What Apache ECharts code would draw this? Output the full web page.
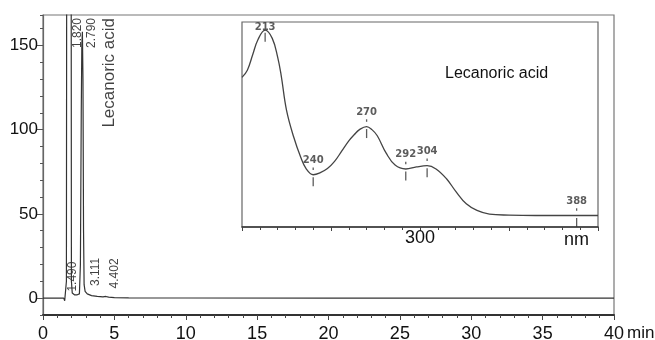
<!DOCTYPE html>
<html>
<head>
<meta charset="utf-8">
<script src="https://cdn.jsdelivr.net/npm/echarts@6/dist/echarts.min.js"></script>
<style>
  html, body { margin: 0; padding: 0; background: #fff; }
  #main { width: 655px; height: 340px; }
</style>
</head>
<body>
<div id="main"></div>
<script>
// Chromatogram: retention time (min) and signal (mAU)
const chromTime = [0, 1.0, 1.45, 1.52, 1.6, 1.64, 1.70, 1.82, 1.94, 1.99, 2.05, 2.2, 2.4, 2.55,
  2.62, 2.68, 2.72, 2.76, 2.80, 2.84, 2.88, 2.95, 3.1, 3.4, 3.8, 4.2, 4.4, 4.6, 5.0, 6.0, 10, 20, 30, 40];
const chromValue = [0, 0, 0, -1.5, -1.2, 10, 600, 1200, 600, 10, 3, 2, 2, 2.5,
  20, 110, 150, 158, 130, 40, 8, 4, 2.5, 1.5, 1, 0.8, 1.0, 0.6, 0.3, 0.2, 0.1, 0, 0, 0];

// Integrated peaks
const peakTimes = [1.490, 1.820, 2.790, 3.111, 4.402];
const peakNames = ['', '', 'Lecanoric acid', '', ''];

// UV spectrum of the 2.790 min peak (nm, relative absorbance)
const specNm = [200, 203, 206, 209, 213, 217, 220, 222, 225, 229, 233, 236, 240, 244, 248, 252, 256,
  260, 263, 266, 270, 273, 276, 281, 286, 292, 298, 304, 309, 315, 320, 326, 332, 339, 350, 365, 388, 400];
const specAbs = [73, 76.5, 84, 91.5, 96, 92, 83, 74, 57, 44, 34, 28.5, 25.5, 26.5, 28.5, 32, 37,
  42, 45, 47.5, 49, 47.5, 44.5, 36, 30.2, 28.3, 29.3, 29.9, 28.3, 23.4, 17.5, 11.3, 8.1, 6.3, 5.8, 5.6, 5.6, 5.6];
const specPeaks = [213, 240, 270, 292, 304, 388];

const yMin = -10;
const yMax = 168;
const yMajor = [0, 50, 100, 150];

const font = '"Liberation Sans", Arial, sans-serif';

// linear lookup in a sampled trace
const valueAt = (xs, ys, x) => {
  for (let i = 1; i < xs.length; i++) {
    if (x <= xs[i]) {
      const f = (x - xs[i - 1]) / (xs[i] - xs[i - 1]);
      return ys[i - 1] + f * (ys[i] - ys[i - 1]);
    }
  }
  return ys[ys.length - 1];
};

const chart = echarts.init(document.getElementById('main'));

// peak labels: off-scale peaks hang from the top, small ones sit just above the trace
const peakLabelData = peakTimes.map((t, i) => {
  const v = valueAt(chromTime, chromValue, t);
  const high = v > 100;
  const text = t.toFixed(3);
  return {
    value: [t, high ? yMax : v],
    label: {
      align: high ? 'right' : 'left',
      offset: high ? [-3, 3] : [8, 3],
      formatter: peakNames[i] ? `{a|${text}}\n{b|${peakNames[i]}}` : `{a|${text}}`
    }
  };
});

const specPoints = specPeaks.map((nm) => [nm, valueAt(specNm, specAbs, nm)]);

const option = {
  animation: false,
  backgroundColor: '#fff',
  grid: [
    {
      left: 43, right: 41, top: 15, bottom: 25,
      show: true, borderColor: '#777', borderWidth: 1.2,
      outerBoundsMode: 'none'
    },
    {
      left: 242, top: 22, width: 356, height: 205,
      show: true, borderColor: '#666', borderWidth: 1.2, backgroundColor: '#fff',
      outerBoundsMode: 'none'
    }
  ],
  xAxis: [
    {
      type: 'value', gridIndex: 0, min: 0, max: 40, interval: 5,
      axisLine: { onZero: false, lineStyle: { color: '#333', width: 2 } },
      axisTick: { length: 5, lineStyle: { color: '#444' } },
      minorTick: { show: true, splitNumber: 5, length: 3, lineStyle: { color: '#444' } },
      axisLabel: { fontSize: 18, fontFamily: font, color: '#111', margin: 10 },
      splitLine: { show: false },
      name: 'min', nameLocation: 'end', nameGap: 13, nameMoveOverlap: false,
      nameTextStyle: { fontSize: 17, fontFamily: font, color: '#111', verticalAlign: 'top', padding: [10, 0, 0, 0] }
    },
    {
      type: 'value', gridIndex: 1, min: 200, max: 400, interval: 50,
      axisLine: { lineStyle: { color: '#333', width: 1.5 } },
      axisTick: { length: 4, lineStyle: { color: '#444' } },
      minorTick: { show: true, splitNumber: 5, length: 3, lineStyle: { color: '#444' } },
      axisLabel: {
        fontSize: 18, fontFamily: font, color: '#111', margin: 2,
        formatter: (v) => (v === 300 ? '300' : '')
      },
      splitLine: { show: false }
    }
  ],
  yAxis: [
    {
      type: 'value', gridIndex: 0, min: yMin, max: yMax, interval: 10,
      axisLine: { show: true, onZero: false, lineStyle: { color: '#666', width: 1.2 } },
      axisTick: { length: 3, lineStyle: { color: '#555' } },
      axisLabel: { show: false },
      splitLine: { show: false }
    },
    {
      type: 'value', gridIndex: 1, min: 0, max: 100, show: false
    },
    {
      type: 'value', gridIndex: 0, min: yMin, max: yMax, position: 'left',
      axisLine: { show: false },
      axisTick: { show: true, customValues: yMajor, length: 6, lineStyle: { color: '#555' } },
      axisLabel: { customValues: yMajor, fontSize: 17, fontFamily: font, color: '#111', margin: 5 },
      splitLine: { show: false }
    }
  ],
  series: [
    {
      type: 'line', xAxisIndex: 0, yAxisIndex: 0,
      data: chromTime.map((t, i) => [t, chromValue[i]]),
      showSymbol: false, clip: true,
      lineStyle: { color: '#333', width: 1.2 }
    },
    {
      type: 'scatter', xAxisIndex: 0, yAxisIndex: 0,
      symbolSize: 0,
      data: peakLabelData,
      label: {
        show: true, position: 'inside', rotate: 90, verticalAlign: 'top', color: '#111',
        rich: {
          a: { fontSize: 12, lineHeight: 11, fontFamily: font, color: '#111' },
          b: { fontSize: 17, lineHeight: 24, fontFamily: font, color: '#111' }
        }
      }
    },
    {
      type: 'line', xAxisIndex: 1, yAxisIndex: 1,
      data: specNm.map((nm, i) => [nm, specAbs[i]]),
      smooth: 0.4, showSymbol: false,
      lineStyle: { color: '#444', width: 1.3 }
    },
    {
      type: 'scatter', xAxisIndex: 1, yAxisIndex: 1,
      data: specPoints,
      symbol: 'rect', symbolSize: [1.3, 9], symbolOffset: [0, 7],
      itemStyle: { color: '#333' }
    },
    {
      type: 'scatter', xAxisIndex: 1, yAxisIndex: 1,
      data: specPoints.map((p) => (p[1] > 90
        ? { value: p, symbolSize: 0, label: { offset: [0, 10] } }
        : { value: p })),
      symbol: 'rect', symbolSize: [1.3, 2.5], symbolOffset: [0, -6],
      itemStyle: { color: '#333' },
      label: {
        show: true, position: 'top', distance: 2,
        formatter: (p) => String(p.value[0]),
        fontFamily: '"DejaVu Sans", sans-serif', fontWeight: 'bold', fontSize: 10, color: '#333'
      }
    }
  ],
  graphic: [
    {
      type: 'text', left: 445, top: 66,
      style: { text: 'Lecanoric acid', fontSize: 16, fontFamily: font, fill: '#111' }
    },
    {
      type: 'text', left: 564, top: 231,
      style: { text: 'nm', fontSize: 18, fontFamily: font, fill: '#111' }
    }
  ]
};

chart.setOption(option);
</script>
</body>
</html>
